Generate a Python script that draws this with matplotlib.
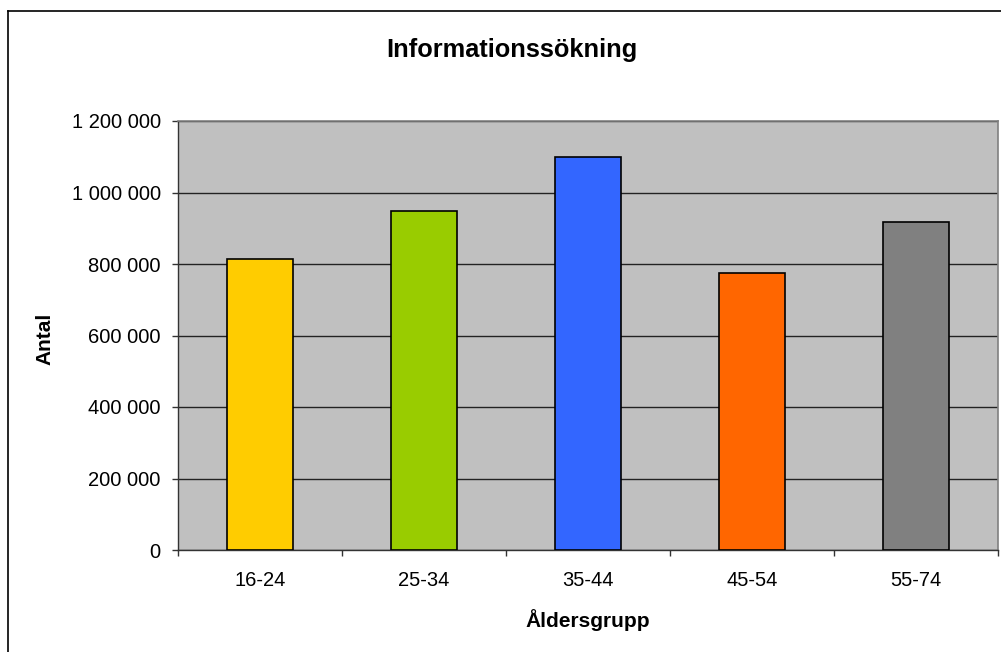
import matplotlib
matplotlib.use('Agg')
import matplotlib.pyplot as plt
from matplotlib.ticker import FuncFormatter, MultipleLocator
from matplotlib.lines import Line2D

plt.rcParams['font.family'] = ['Liberation Sans', 'DejaVu Sans']

# Antal per åldersgrupp
age_groups = ['16-24', '25-34', '35-44', '45-54', '55-74']
counts = [814000, 949000, 1098000, 776000, 917000]
bar_colors = ['#FFCC00', '#99CC00', '#3366FF', '#FF6600', '#808080']

W, H = 1001, 652
fig = plt.figure(figsize=(W / 100, H / 100), dpi=100)
ax = fig.add_axes([178 / W, 1 - 550 / H, 820 / W, 429 / H])

x = range(len(age_groups))
ax.bar(x, counts, width=0.4, color=bar_colors, edgecolor='black', linewidth=1.2, zorder=3)

ax.set_facecolor('#C0C0C0')
ax.set_xlim(-0.5, len(age_groups) - 0.5)
ax.set_ylim(0, 1200000)
ax.yaxis.set_major_locator(MultipleLocator(200000))
ax.yaxis.set_major_formatter(FuncFormatter(lambda v, _: f'{int(v):,}'.replace(',', ' ')))
ax.grid(axis='y', color='#222222', lw=1.0, zorder=1)

# category ticks between bars, labels centred under bars
ax.set_xticks([i + 0.5 for i in range(-1, len(age_groups))])
ax.set_xticklabels([])
ax.set_xticks(list(x), minor=True)
ax.set_xticklabels(age_groups, minor=True)
ax.tick_params(axis='x', which='minor', length=0, pad=15, labelsize=14.5)
ax.tick_params(axis='x', which='major', length=4.5, width=1, color='#333333', direction='out')
ax.tick_params(axis='y', length=4.5, width=1, color='#333333', labelsize=14.5, pad=8)

for side in ['top', 'right']:
    ax.spines[side].set_color('#808080')
    ax.spines[side].set_linewidth(1.2)
for side in ['left', 'bottom']:
    ax.spines[side].set_color('#333333')
    ax.spines[side].set_linewidth(1.0)

fig.text(588 / W, 1 - 620 / H, 'Åldersgrupp', ha='center', va='center',
         fontsize=15, fontweight='bold')
fig.text(45 / W, 1 - 339 / H, 'Antal', ha='center', va='center', rotation=90,
         fontsize=15, fontweight='bold')
fig.text(512 / W, 1 - 50 / H, 'Informationssökning', ha='center', va='center',
         fontsize=18.3, fontweight='bold')

# outer chart frame (left and top edges visible)
fig.add_artist(Line2D([8 / W, 8 / W], [0, 1 - 11 / H], color='black', lw=1.2,
                      transform=fig.transFigure))
fig.add_artist(Line2D([8 / W, 1], [1 - 11 / H, 1 - 11 / H], color='black', lw=1.2,
                      transform=fig.transFigure))

fig.savefig('out.png', dpi=100)
